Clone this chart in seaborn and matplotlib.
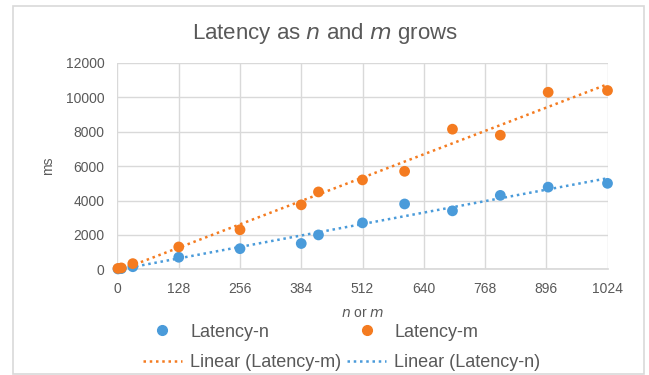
import numpy as np
import pandas as pd
import matplotlib
matplotlib.use("Agg")
import matplotlib.pyplot as plt
import seaborn as sns
from matplotlib.lines import Line2D
from matplotlib.patches import Rectangle

# data
x_vals = [1, 8, 32, 128, 256, 384, 420, 512, 600, 700, 800, 900, 1024]
latency_n = [20, 40, 150, 700, 1200, 1500, 2000, 2700, 3800, 3400, 4300, 4780, 5000]
latency_m = [50, 80, 330, 1300, 2300, 3750, 4500, 5200, 5700, 8150, 7800, 10300, 10400]
x_ticks = [0, 128, 256, 384, 512, 640, 768, 896, 1024]
y_ticks = [0, 2000, 4000, 6000, 8000, 10000, 12000]

blue = "#4A9BDA"
orange = "#F47B20"
gray = "#595959"
grid = "#D9D9D9"

sns.set_theme(style="whitegrid")
plt.rcParams['font.family'] = ['Liberation Sans', 'DejaVu Sans']

df = pd.DataFrame({"x": x_vals, "Latency-n": latency_n, "Latency-m": latency_m})

W, H = 649, 375
fig = plt.figure(figsize=(6.49, 3.75), dpi=100)
# chart-area border
fig.patches.append(Rectangle((13 / W, 1 - 374 / H), (644 - 13) / W, (374 - 6) / H,
                             transform=fig.transFigure, fill=False,
                             edgecolor="#D9D9D9", lw=1.2, zorder=0))
ax = fig.add_axes([117.5 / W, 1 - 269.3 / H, (607.5 - 117.5) / W, (269.3 - 63) / H])

# trendlines
xs = np.array(x_vals, dtype=float)
xl = np.linspace(0, xs.max(), 50)
pm = np.polyfit(xs, latency_m, 1)
pn = np.polyfit(xs, latency_n, 1)
dot = (0, (1, 1.5))
ax.plot(xl, np.polyval(pm, xl), color=orange, ls=dot, lw=1.8, zorder=2)
ax.plot(xl, np.polyval(pn, xl), color=blue, ls=dot, lw=1.8, zorder=2)

sns.scatterplot(data=df, x="x", y="Latency-n", color=blue, s=60, edgecolor="none",
                ax=ax, zorder=3, clip_on=False)
sns.scatterplot(data=df, x="x", y="Latency-m", color=orange, s=60, edgecolor="none",
                ax=ax, zorder=4, clip_on=False)

ax.set_xlim(0, 1024)
ax.set_ylim(0, 12000)
ax.set_xticks(x_ticks)
ax.set_yticks(y_ticks)
ax.tick_params(axis="x", colors=gray, labelsize=10, length=0, pad=9)
ax.tick_params(axis="y", colors=gray, labelsize=10, length=0, pad=9.4)
ax.grid(True, color=grid, lw=1)
for s in ax.spines.values():
    s.set_visible(False)
ax.spines['bottom'].set_visible(True)
ax.spines['bottom'].set_color(grid)
ax.set_axisbelow(True)

ax.set_xlabel("$\\it{n}$ or $\\it{m}$", color=gray, fontsize=10, labelpad=7)
ax.set_ylabel("ms", color=gray, fontsize=10, labelpad=8)
fig.text(0.5, 1 - 33 / H, "Latency as $\\it{n}$ and $\\it{m}$ grows", ha="center", va="center",
         color=gray, fontsize=16)

handles = [
    Line2D([], [], ls="none", marker="o", color=blue, markersize=7),
    Line2D([], [], color=orange, ls=dot, lw=1.8),
    Line2D([], [], ls="none", marker="o", color=orange, markersize=7),
    Line2D([], [], color=blue, ls=dot, lw=1.8),
]
labels = ["Latency-n", "Linear (Latency-m)", "Latency-m", "Linear (Latency-n)"]
leg = fig.legend(handles, labels, ncol=2, loc="center left",
                 bbox_to_anchor=(142.7 / W, 1 - 347.5 / H), frameon=False, fontsize=13,
                 handlelength=2.16, handletextpad=0.46, columnspacing=0.33,
                 labelspacing=0.75, borderpad=0, borderaxespad=0)
for t in leg.get_texts():
    t.set_color(gray)

fig.savefig("out.png", dpi=100)
